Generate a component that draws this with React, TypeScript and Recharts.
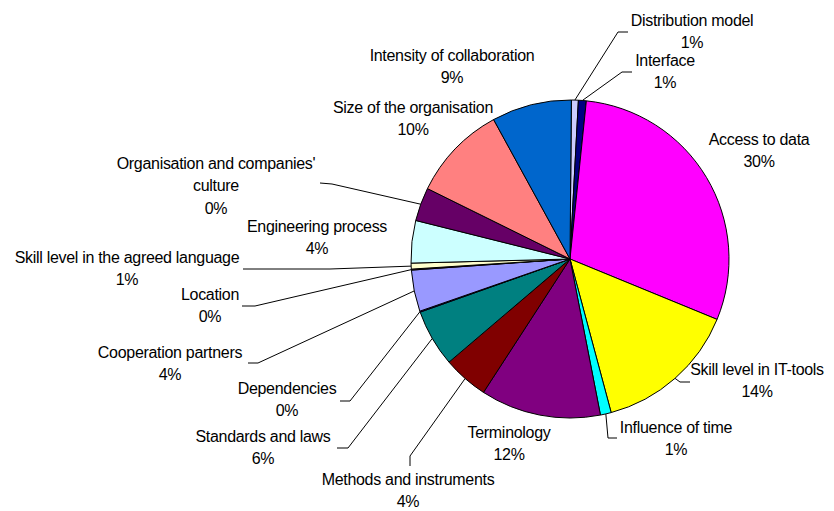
import { PieChart, Pie, Cell } from 'recharts';

const categories = [
  'Distribution model',
  'Interface',
  'Access to data',
  'Skill level in IT-tools',
  'Influence of time',
  'Terminology',
  'Methods and instruments',
  'Standards and laws',
  'Dependencies',
  'Cooperation partners',
  'Location',
  'Skill level in the agreed language',
  'Engineering process',
  "Organisation and companies' culture",
  'Size of the organisation',
  'Intensity of collaboration',
];

// slice sizes (percent of the circle)
const shares = [0.7, 0.8, 29.5, 14.6, 1.1, 12.2, 4.6, 5.8, 0.1, 4.2, 0.1, 0.6, 4.3, 3.4, 9.7, 8.1];

// the percentages printed on the chart
const shareLabels = ['1%', '1%', '30%', '14%', '1%', '12%', '4%', '6%', '0%', '4%', '0%', '1%', '4%', '0%', '10%', '9%'];

const colors = [
  '#CCCCFF', '#000080', '#FF00FF', '#FFFF00', '#00FFFF', '#800080', '#800000', '#008080',
  '#0000FF', '#9999FF', '#993366', '#FFFFCC', '#CCFFFF', '#660066', '#FF8080', '#0066CC',
];

const data = categories.map((name, i) => ({ name, value: shares[i] }));

const displayNames = categories.map((n) =>
  n === "Organisation and companies' culture" ? ["Organisation and companies'", 'culture'] : [n]
);

// label placement: text centre x, first line centre y, leader elbow (label side first)
const labelLayout: { x: number; y: number; elbow?: number[][] }[] = [
  { x: 692, y: 20, elbow: [[628, 32], [618, 32]] },
  { x: 665, y: 60, elbow: [[632, 72], [622, 72]] },
  { x: 759, y: 139 },
  { x: 757, y: 369, elbow: [[690, 382], [680, 382]] },
  { x: 676, y: 427, elbow: [[617, 438], [608, 438]] },
  { x: 509, y: 432 },
  { x: 408, y: 479, elbow: [[410, 466], [410, 456]] },
  { x: 263, y: 436, elbow: [[337, 448], [348, 448]] },
  { x: 287, y: 388, elbow: [[340, 401], [350, 401]] },
  { x: 170, y: 352, elbow: [[248, 363], [258, 363]] },
  { x: 210, y: 294, elbow: [[242, 306], [255, 306]] },
  { x: 127, y: 257, elbow: [[243, 269], [330, 269]] },
  { x: 317, y: 226 },
  { x: 216, y: 163, elbow: [[320, 183], [332, 184]] },
  { x: 413, y: 107 },
  { x: 452, y: 55 },
];

const RAD = Math.PI / 180;
const lineGap = 22.5;

function renderLabel(props: any) {
  const { cx, cy, midAngle, outerRadius, index } = props;
  const lay = labelLayout[index];
  const lines = [...displayNames[index], shareLabels[index]];
  const px = cx + outerRadius * Math.cos(-midAngle * RAD);
  const py = cy + outerRadius * Math.sin(-midAngle * RAD);
  return (
    <g key={`lbl-${index}`}>
      {lay.elbow && (
        <polyline
          points={[...lay.elbow, [px, py]].map((p) => p.join(',')).join(' ')}
          fill="none"
          stroke="#000"
          strokeWidth={1}
        />
      )}
      {lines.map((t, j) => (
        <text
          key={j}
          x={lay.x}
          y={lay.y + j * lineGap}
          textAnchor="middle"
          dominantBaseline="central"
          fontFamily="'Liberation Sans', Arial, sans-serif"
          fontSize={16}
          letterSpacing={-0.3}
          fill="#000"
        >
          {t}
        </text>
      ))}
    </g>
  );
}

export default function App() {
  return (
    <div style={{ position: 'absolute', left: 0, top: 0, width: 834, height: 511, background: '#fff' }}>
      <PieChart width={834} height={511}>
        <Pie
          data={data}
          dataKey="value"
          nameKey="name"
          cx={565}
          cy={254}
          outerRadius={159}
          startAngle={89.5}
          endAngle={-270.5}
          stroke="#000"
          strokeWidth={1}
          label={renderLabel}
          labelLine={false}
          isAnimationActive={false}
        >
          {data.map((entry, index) => (
            <Cell key={`cell-${index}`} fill={colors[index]} />
          ))}
        </Pie>
      </PieChart>
    </div>
  );
}
